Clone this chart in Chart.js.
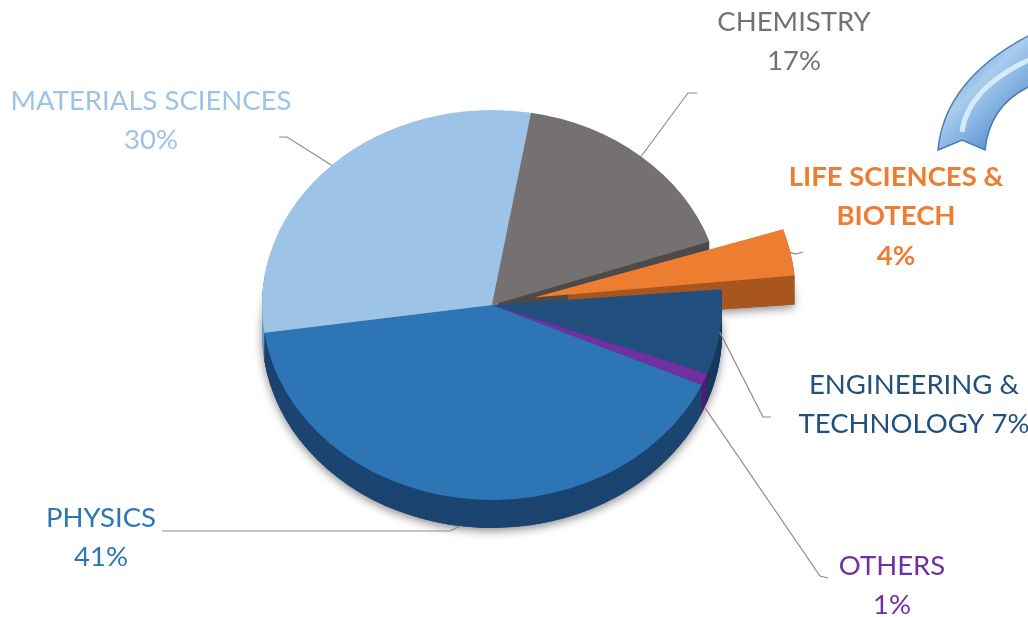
<!DOCTYPE html>
<html>
<head>
<meta charset="utf-8">
<script src="https://cdn.jsdelivr.net/npm/chart.js@4.4.1/dist/chart.umd.min.js"></script>
<style>
  html, body { margin: 0; padding: 0; background: #fff; }
  #chart { display: block; }
</style>
</head>
<body>
<canvas id="chart" width="1028" height="617"></canvas>
<script>
// data (clockwise, starting at the exploded slice)
var categories = ['LIFE SCIENCES & BIOTECH', 'ENGINEERING & TECHNOLOGY', 'OTHERS', 'PHYSICS', 'MATERIALS SCIENCES', 'CHEMISTRY']
var shares = [4, 7, 1, 41, 30, 17]
var labelLines = [
  ['LIFE SCIENCES &', 'BIOTECH', '{p}'],
  ['ENGINEERING &', 'TECHNOLOGY {p}'],
  ['OTHERS', '{p}'],
  ['PHYSICS', '{p}'],
  ['MATERIALS SCIENCES', '{p}'],
  ['CHEMISTRY', '{p}']
]

var topColors = ['#ED7D31', '#21507F', '#7030A0', '#2E75B6', '#9DC3E6', '#767171']
var sideColors = ['#A9561F', '#163A5E', '#4B1E70', '#1C4470', '#7099C0', '#4E4A4A']
var textColors = ['#ED7D31', '#21507F', '#7030A0', '#2E75B6', '#9DC3E6', '#767171']

// layout of the 3d pie
var CY = 305, K = 195 / 230, DEPTH = 28
// label anchors: [text centre x, first line y, elbow x, elbow y, end x, end y]
var labelPos = [
  [896, 177, 795, 254, 803, 252],
  [914, 385, 763, 417, 771, 417],
  [892, 566, 820, 576, 828, 578],
  [101, 518, 450, 531, 162, 531],
  [151, 101, 287, 137, 279, 137],
  [794, 22, 688, 93, 697, 93]
]

function squash(ctx, pieY, dy) {
  ctx.translate(0, CY + dy)
  ctx.scale(1, K)
  ctx.translate(0, -pieY)
}

// same shift the arc element applies when it draws an offset slice
function effOffset(arc) {
  var off = (arc.options.offset || 0) / 4
  var circ = arc.endAngle - arc.startAngle
  var fix = 1 - Math.sin(Math.min(Math.PI, circ || 0))
  return off * (1 + fix)
}

function arcPath(ctx, arc) {
  var off = effOffset(arc)
  var mid = (arc.startAngle + arc.endAngle) / 2
  var x = arc.x + Math.cos(mid) * off
  var y = arc.y + Math.sin(mid) * off
  ctx.beginPath()
  ctx.moveTo(x, y)
  ctx.arc(x, y, arc.outerRadius, arc.startAngle, arc.endAngle)
  ctx.closePath()
}

var pie3d = {
  id: 'pie3d',
  beforeDatasetsDraw: function(chart) {
    var ctx = chart.ctx
    var arcs = chart.getDatasetMeta(0).data
    var pieY = arcs[0].y
    var order = arcs.map(function(a, i) { return i })
    order.sort(function(a, b) {
      var ma = (arcs[a].startAngle + arcs[a].endAngle) / 2
      var mb = (arcs[b].startAngle + arcs[b].endAngle) / 2
      return Math.sin(ma) - Math.sin(mb)
    })
    // soft shadow under the whole pie
    ctx.save()
    ctx.shadowColor = 'rgba(0,0,0,0.45)'
    ctx.shadowBlur = 10
    ctx.shadowOffsetY = 3
    order.forEach(function(i) {
      ctx.save()
      squash(ctx, pieY, DEPTH)
      arcPath(ctx, arcs[i])
      ctx.fillStyle = sideColors[i]
      ctx.fill()
      ctx.restore()
    })
    ctx.restore()
    order.forEach(function(i) {
      for (var d = DEPTH; d >= 1; d--) {
        ctx.save()
        squash(ctx, pieY, d)
        arcPath(ctx, arcs[i])
        ctx.fillStyle = sideColors[i]
        ctx.fill()
        ctx.restore()
      }
    })
    ctx.save()
    squash(ctx, pieY, 0)
  },
  afterDatasetsDraw: function(chart) {
    chart.ctx.restore()
  },
  afterDraw: function(chart) {
    var ctx = chart.ctx
    var arcs = chart.getDatasetMeta(0).data
    var total = shares.reduce(function(s, v) { return s + v }, 0)

    // leader lines
    ctx.save()
    ctx.strokeStyle = '#8C8C8C'
    ctx.lineWidth = 1.2
    arcs.forEach(function(arc, i) {
      var mid = (arc.startAngle + arc.endAngle) / 2
      var r = arc.outerRadius + effOffset(arc)
      var sx = arc.x + Math.cos(mid) * r
      var sy = CY + Math.sin(mid) * r * K
      if (Math.sin(mid) > 0.3) sy += DEPTH
      var lp = labelPos[i]
      ctx.beginPath()
      ctx.moveTo(sx, sy)
      ctx.lineTo(lp[2], lp[3])
      ctx.lineTo(lp[4], lp[5])
      ctx.stroke()
    })
    ctx.restore()

    // labels
    ctx.save()
    ctx.textAlign = 'center'
    ctx.textBaseline = 'middle'
    arcs.forEach(function(arc, i) {
      var pct = Math.round(shares[i] / total * 100) + '%'
      var lp = labelPos[i]
      ctx.fillStyle = textColors[i]
      ctx.font = (i === 0 ? 'bold ' : '') + '27.5px Lato'
      labelLines[i].forEach(function(line, j) {
        ctx.fillText(line.replace('{p}', pct), lp[0], lp[1] + j * 39.5)
      })
    })
    ctx.restore()

    // decorative curved arrow shaft, top right
    ctx.save()
    ctx.beginPath()
    ctx.moveTo(938, 150)
    ctx.quadraticCurveTo(945, 75, 1040, 30)
    ctx.lineTo(1040, 82)
    ctx.quadraticCurveTo(990, 100, 985, 150)
    ctx.lineTo(962, 140)
    ctx.closePath()
    var g = ctx.createLinearGradient(940, 60, 1010, 130)
    g.addColorStop(0, '#4F86C6')
    g.addColorStop(0.45, '#A9CDEE')
    g.addColorStop(1, '#5B93D1')
    ctx.fillStyle = g
    ctx.fill()
    ctx.strokeStyle = '#4A7AB5'
    ctx.lineWidth = 1.5
    ctx.stroke()
    ctx.beginPath()
    ctx.moveTo(962, 132)
    ctx.quadraticCurveTo(968, 85, 1040, 55)
    ctx.strokeStyle = 'rgba(220,238,252,0.9)'
    ctx.lineWidth = 5
    ctx.stroke()
    ctx.restore()
  }
}

new Chart(document.getElementById('chart'), {
  type: 'pie',
  data: {
    labels: categories,
    datasets: [{
      data: shares,
      backgroundColor: topColors,
      borderWidth: 0,
      offset: [171, 0, 0, 0, 0, 0],
      clip: false
    }]
  },
  options: {
    responsive: false,
    animation: false,
    rotation: 71,
    radius: 230,
    layout: { padding: { left: 262, right: 306, top: 78, bottom: 79 } },
    plugins: {
      legend: { display: false },
      tooltip: { enabled: false }
    }
  },
  plugins: [pie3d]
})
</script>
</body>
</html>
